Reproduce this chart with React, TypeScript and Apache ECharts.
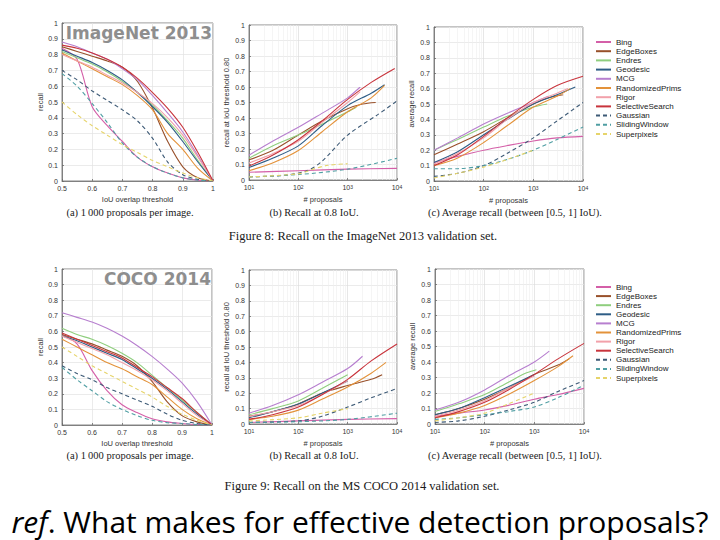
import React, { useEffect, useRef } from "react";
import * as echarts from "echarts";

// ---------- data ----------
const methods = [
  "Bing", "EdgeBoxes", "Endres", "Geodesic", "MCG", "RandomizedPrims",
  "Rigor", "SelectiveSearch", "Gaussian", "SlidingWindow", "Superpixels",
];
const methodColors = [
  "#d45fa8", "#98502a", "#8fce7e", "#2e5d86", "#b77fcf", "#e3923a",
  "#f2a1aa", "#c8343c", "#3d5a76", "#4f9ea3", "#e6d46a",
];
const dashedMethods = ["Gaussian", "SlidingWindow", "Superpixels"];

const iouThresholds = [0.5, 0.55, 0.6, 0.65, 0.7, 0.75, 0.8, 0.85, 0.9, 0.95, 1.0];

// (a) ImageNet 2013: recall vs IoU overlap threshold (1000 proposals)
const imagenetRecallIoU: Record<string, number[]> = {
  Bing: [0.84, 0.77, 0.47, 0.35, 0.25, 0.15, 0.09, 0.05, 0.02, 0.005, 0],
  EdgeBoxes: [0.85, 0.82, 0.79, 0.76, 0.72, 0.63, 0.46, 0.25, 0.09, 0.02, 0],
  Endres: [0.82, 0.78, 0.74, 0.69, 0.63, 0.56, 0.48, 0.38, 0.27, 0.13, 0],
  Geodesic: [0.83, 0.79, 0.75, 0.7, 0.64, 0.56, 0.47, 0.37, 0.25, 0.12, 0],
  MCG: [0.88, 0.85, 0.81, 0.77, 0.71, 0.64, 0.54, 0.43, 0.31, 0.16, 0],
  RandomizedPrims: [0.81, 0.76, 0.71, 0.66, 0.61, 0.54, 0.45, 0.3, 0.2, 0.08, 0],
  Rigor: [0.8, 0.76, 0.72, 0.67, 0.62, 0.56, 0.49, 0.4, 0.29, 0.15, 0],
  SelectiveSearch: [0.86, 0.84, 0.81, 0.77, 0.72, 0.65, 0.56, 0.46, 0.34, 0.18, 0],
  Gaussian: [0.7, 0.64, 0.57, 0.51, 0.45, 0.38, 0.27, 0.12, 0.04, 0.01, 0],
  SlidingWindow: [0.68, 0.6, 0.49, 0.37, 0.24, 0.15, 0.09, 0.05, 0.02, 0.005, 0],
  Superpixels: [0.5, 0.42, 0.35, 0.29, 0.23, 0.18, 0.13, 0.09, 0.05, 0.02, 0],
};

// (b) ImageNet 2013: recall at IoU 0.8 vs # proposals
const imagenetRecall08: Record<string, number[][]> = {
  Bing: [[10, 0.05], [100, 0.06], [1000, 0.07], [10000, 0.075]],
  EdgeBoxes: [[10, 0.13], [30, 0.19], [100, 0.29], [300, 0.38], [1000, 0.46], [2000, 0.49], [3700, 0.5]],
  Endres: [[10, 0.14], [30, 0.22], [100, 0.29], [300, 0.36], [1000, 0.44], [1500, 0.47]],
  Geodesic: [[10, 0.08], [30, 0.14], [100, 0.22], [300, 0.35], [1000, 0.48], [3000, 0.56], [5600, 0.615]],
  MCG: [[10, 0.16], [30, 0.25], [100, 0.34], [300, 0.43], [1000, 0.53], [1800, 0.6]],
  RandomizedPrims: [[10, 0.06], [30, 0.11], [100, 0.19], [300, 0.31], [1000, 0.44], [3000, 0.53], [5600, 0.61]],
  Rigor: [[10, 0.11], [30, 0.17], [100, 0.25], [300, 0.37], [1000, 0.5], [1800, 0.57]],
  SelectiveSearch: [[10, 0.09], [30, 0.16], [100, 0.26], [300, 0.38], [1000, 0.52], [3000, 0.63], [9000, 0.72]],
  Gaussian: [[10, 0.02], [50, 0.03], [150, 0.06], [300, 0.12], [1000, 0.29], [4000, 0.42], [10000, 0.51]],
  SlidingWindow: [[10, 0.02], [100, 0.035], [1000, 0.07], [10000, 0.14]],
  Superpixels: [[10, 0.02], [100, 0.04], [200, 0.07], [400, 0.095], [1000, 0.105]],
};

// (c) ImageNet 2013: average recall vs # proposals
const imagenetAvgRecall: Record<string, number[][]> = {
  Bing: [[10, 0.12], [30, 0.16], [100, 0.2], [300, 0.23], [1000, 0.26], [3000, 0.28], [10000, 0.29]],
  EdgeBoxes: [[10, 0.17], [30, 0.24], [100, 0.32], [300, 0.41], [1000, 0.5], [2000, 0.54], [4000, 0.56]],
  Endres: [[10, 0.2], [30, 0.27], [100, 0.35], [300, 0.42], [1000, 0.48], [1900, 0.5]],
  Geodesic: [[10, 0.12], [30, 0.19], [100, 0.3], [300, 0.4], [1000, 0.5], [3000, 0.56], [7000, 0.61]],
  MCG: [[10, 0.2], [30, 0.28], [100, 0.37], [300, 0.44], [1000, 0.51], [2000, 0.55]],
  RandomizedPrims: [[10, 0.1], [30, 0.15], [100, 0.25], [300, 0.36], [1000, 0.48], [3000, 0.55], [5500, 0.6]],
  Rigor: [[10, 0.11], [30, 0.18], [100, 0.28], [300, 0.4], [1000, 0.51], [3000, 0.57], [5000, 0.6]],
  SelectiveSearch: [[10, 0.1], [30, 0.17], [100, 0.29], [300, 0.41], [1000, 0.53], [3000, 0.62], [10000, 0.68]],
  Gaussian: [[10, 0.03], [30, 0.05], [100, 0.1], [300, 0.18], [1000, 0.28], [3000, 0.39], [10000, 0.51]],
  SlidingWindow: [[10, 0.08], [30, 0.08], [100, 0.1], [300, 0.14], [1000, 0.2], [3000, 0.27], [10000, 0.35]],
  Superpixels: [[10, 0.02], [30, 0.05], [100, 0.09], [300, 0.14], [1000, 0.2]],
};

// (a) COCO 2014: recall vs IoU overlap threshold
const cocoRecallIoU: Record<string, number[]> = {
  Bing: [0.58, 0.52, 0.35, 0.22, 0.13, 0.08, 0.04, 0.02, 0.01, 0.003, 0],
  EdgeBoxes: [0.58, 0.55, 0.52, 0.48, 0.44, 0.38, 0.28, 0.15, 0.06, 0.02, 0],
  Endres: [0.62, 0.58, 0.55, 0.51, 0.46, 0.4, 0.32, 0.24, 0.16, 0.08, 0],
  Geodesic: [0.57, 0.54, 0.5, 0.46, 0.42, 0.36, 0.3, 0.23, 0.15, 0.07, 0],
  MCG: [0.72, 0.69, 0.66, 0.62, 0.57, 0.51, 0.44, 0.36, 0.27, 0.15, 0],
  RandomizedPrims: [0.55, 0.5, 0.45, 0.4, 0.36, 0.31, 0.26, 0.18, 0.1, 0.04, 0],
  Rigor: [0.57, 0.53, 0.49, 0.45, 0.4, 0.35, 0.29, 0.22, 0.14, 0.06, 0],
  SelectiveSearch: [0.59, 0.55, 0.51, 0.47, 0.43, 0.37, 0.31, 0.24, 0.17, 0.08, 0],
  Gaussian: [0.38, 0.33, 0.29, 0.24, 0.2, 0.16, 0.12, 0.07, 0.03, 0.01, 0],
  SlidingWindow: [0.37, 0.29, 0.22, 0.15, 0.1, 0.06, 0.03, 0.015, 0.01, 0.003, 0],
  Superpixels: [0.5, 0.44, 0.38, 0.33, 0.28, 0.23, 0.18, 0.12, 0.07, 0.03, 0],
};

// (b) COCO 2014: recall at IoU 0.8 vs # proposals
const cocoRecall08: Record<string, number[][]> = {
  Bing: [[10, 0.01], [100, 0.02], [1000, 0.03], [10000, 0.035]],
  EdgeBoxes: [[10, 0.05], [30, 0.08], [100, 0.13], [300, 0.2], [1000, 0.25], [3000, 0.29], [5000, 0.32]],
  Endres: [[10, 0.06], [30, 0.1], [100, 0.15], [300, 0.23], [1000, 0.32]],
  Geodesic: [[10, 0.04], [30, 0.08], [100, 0.13], [300, 0.2], [1000, 0.28]],
  MCG: [[10, 0.07], [30, 0.12], [100, 0.19], [300, 0.27], [1000, 0.36], [2000, 0.44]],
  RandomizedPrims: [[10, 0.03], [30, 0.05], [100, 0.09], [300, 0.16], [1000, 0.24], [3000, 0.33], [6000, 0.4]],
  Rigor: [[10, 0.05], [30, 0.08], [100, 0.12], [300, 0.19], [1000, 0.28]],
  SelectiveSearch: [[10, 0.03], [30, 0.06], [100, 0.11], [300, 0.19], [1000, 0.29], [3000, 0.41], [10000, 0.52]],
  Gaussian: [[10, 0.01], [100, 0.02], [300, 0.05], [1000, 0.11], [3000, 0.17], [10000, 0.23]],
  SlidingWindow: [[10, 0.01], [100, 0.015], [1000, 0.03], [10000, 0.07]],
  Superpixels: [[10, 0.02], [100, 0.04], [300, 0.07], [1000, 0.1]],
};

// (c) COCO 2014: average recall vs # proposals
const cocoAvgRecall: Record<string, number[][]> = {
  Bing: [[10, 0.05], [30, 0.07], [100, 0.09], [300, 0.12], [1000, 0.16], [3000, 0.19], [10000, 0.23]],
  EdgeBoxes: [[10, 0.06], [30, 0.1], [100, 0.16], [300, 0.23], [1000, 0.32], [3000, 0.38], [5000, 0.42]],
  Endres: [[10, 0.08], [30, 0.13], [100, 0.19], [300, 0.27], [700, 0.33], [1100, 0.35]],
  Geodesic: [[10, 0.06], [30, 0.1], [100, 0.17], [300, 0.24], [1000, 0.32]],
  MCG: [[10, 0.09], [30, 0.14], [100, 0.22], [300, 0.31], [1000, 0.4], [2000, 0.47]],
  RandomizedPrims: [[10, 0.04], [30, 0.07], [100, 0.12], [300, 0.19], [1000, 0.28], [3000, 0.37], [6000, 0.44]],
  Rigor: [[10, 0.05], [30, 0.09], [100, 0.15], [300, 0.23], [1000, 0.31]],
  SelectiveSearch: [[10, 0.04], [30, 0.08], [100, 0.14], [300, 0.22], [1000, 0.32], [3000, 0.42], [10000, 0.52]],
  Gaussian: [[10, 0.01], [30, 0.02], [100, 0.05], [300, 0.09], [1000, 0.14], [3000, 0.21], [10000, 0.28]],
  SlidingWindow: [[10, 0.03], [30, 0.04], [100, 0.06], [300, 0.08], [1000, 0.11], [3000, 0.17], [10000, 0.25]],
  Superpixels: [[10, 0.02], [30, 0.04], [100, 0.07], [300, 0.13], [1000, 0.2]],
};

const subCaptions = [
  "(a) 1\u2009000 proposals per image.",
  "(b) Recall at 0.8 IoU.",
  "(c) Average recall (between [0.5, 1] IoU).",
];
const figureCaptions = [
  "Figure 8: Recall on the ImageNet 2013 validation set.",
  "Figure 9: Recall on the MS COCO 2014 validation set.",
];
const datasetTitles = ["ImageNet 2013", "COCO 2014"];

// ---------- chart ----------
const SANS = '"Liberation Sans", Arial, Helvetica, sans-serif';
const SERIF = '"Liberation Serif", "Times New Roman", serif';

const gridBoxes = [
  { left: 62, top: 23, width: 151, height: 158 },
  { left: 249, top: 25, width: 148, height: 155 },
  { left: 434, top: 27, width: 149, height: 154 },
  { left: 62, top: 269, width: 150, height: 156 },
  { left: 249, top: 270, width: 148, height: 154 },
  { left: 435, top: 269, width: 149, height: 155 },
];

function buildOption() {
  const plots = [
    { kind: "iou", iou: imagenetRecallIoU, yName: "recall" },
    { kind: "log", log: imagenetRecall08, yName: "recall at IoU threshold 0.80" },
    { kind: "log", log: imagenetAvgRecall, yName: "average recall" },
    { kind: "iou", iou: cocoRecallIoU, yName: "recall" },
    { kind: "log", log: cocoRecall08, yName: "recall at IoU threshold 0.80" },
    { kind: "log", log: cocoAvgRecall, yName: "average recall" },
  ] as any[];

  const axisLineStyle = { color: "#6a6a6a", width: 0.8 };
  const labelStyle = { fontSize: 7, color: "#333", fontFamily: SANS };
  const nameStyle = { fontSize: 7.5, color: "#333", fontFamily: SANS };

  const minorLogTicks: number[] = [];
  [10, 100, 1000].forEach((d) => {
    for (let m = 2; m <= 9; m++) minorLogTicks.push(d * m);
  });

  const grid = gridBoxes.map((g) => ({
    ...g,
    show: true,
    borderColor: "#6a6a6a",
    borderWidth: 0.8,
    backgroundColor: "#fff",
    containLabel: false,
  }));

  const xAxis: any[] = [];
  const yAxis: any[] = [];
  const series: any[] = [];

  plots.forEach((p, gi) => {
    if (p.kind === "iou") {
      xAxis.push({
        type: "value",
        gridIndex: gi,
        min: 0.5,
        max: 1,
        interval: 0.1,
        name: "IoU overlap threshold",
        nameLocation: "middle",
        nameGap: 14,
        nameTextStyle: nameStyle,
        axisLine: { show: true, lineStyle: axisLineStyle },
        axisTick: { show: true, inside: true, length: 2, lineStyle: axisLineStyle },
        axisLabel: {
          ...labelStyle,
          margin: 4,
          formatter: (v: number) => String(Number(v.toFixed(1))),
        },
        splitLine: { show: true, lineStyle: { color: "#e3e3e3", width: 0.7 } },
      });
    } else {
      xAxis.push({
        type: "log",
        logBase: 10,
        gridIndex: gi,
        min: 10,
        max: 10000,
        name: "# proposals",
        nameLocation: "middle",
        nameGap: 15,
        nameTextStyle: nameStyle,
        axisLine: { show: true, lineStyle: axisLineStyle },
        axisTick: { show: true, inside: true, length: 2, lineStyle: axisLineStyle },
        axisLabel: {
          ...labelStyle,
          margin: 4,
          formatter: (v: number) => `{b|10}{s|${Math.round(Math.log10(v))}}`,
          rich: {
            b: { fontSize: 7, color: "#333", fontFamily: SANS },
            s: { fontSize: 5, color: "#333", fontFamily: SANS, verticalAlign: "top" },
          },
        },
        splitLine: { show: true, lineStyle: { color: "#dcdcdc", width: 0.7 } },
      });
    }
    yAxis.push({
      type: "value",
      gridIndex: gi,
      min: 0,
      max: 1,
      interval: 0.1,
      name: p.yName,
      nameLocation: "middle",
      nameGap: p.kind === "iou" ? 18 : 19,
      nameTextStyle: nameStyle,
      axisLine: { show: true, lineStyle: axisLineStyle },
      axisTick: { show: true, inside: true, length: 2, lineStyle: axisLineStyle },
      axisLabel: {
        ...labelStyle,
        margin: 4,
        formatter: (v: number) => String(Number(v.toFixed(1))),
      },
      splitLine: { show: true, lineStyle: { color: "#e3e3e3", width: 0.7 } },
    });

    methods.forEach((m, mi) => {
      const dashed = dashedMethods.includes(m);
      const data =
        p.kind === "iou"
          ? iouThresholds.map((x, i) => [x, p.iou[m][i]])
          : p.log[m];
      const s: any = {
        type: "line",
        name: m,
        xAxisIndex: gi,
        yAxisIndex: gi,
        data,
        symbol: "none",
        showSymbol: false,
        smooth: 0.3,
        silent: true,
        color: methodColors[mi],
        lineStyle: {
          color: methodColors[mi],
          width: 1.1,
          type: dashed ? [4, 3] : "solid",
        },
        emphasis: { disabled: true },
        z: 3,
      };
      if (p.kind === "log" && mi === 0) {
        s.markLine = {
          silent: true,
          z: 1,
          symbol: ["none", "none"],
          label: { show: false },
          emphasis: { disabled: true },
          lineStyle: { color: "#eeeeee", width: 0.6, type: "solid" },
          data: minorLogTicks.map((v) => ({ xAxis: v })),
        };
      }
      series.push(s);
    });
  });

  const legendCommon = {
    orient: "vertical",
    left: 595,
    padding: 0,
    itemWidth: 15,
    itemHeight: 8,
    selectedMode: false,
    data: methods,
    itemStyle: { color: "transparent", borderColor: "transparent", borderWidth: 0, opacity: 0 },
    textStyle: { fontSize: 8, lineHeight: 8, color: "#222", fontFamily: SANS },
  };

  const captionText = (text: string, x: number, y: number, size: number) => ({
    type: "text",
    x,
    y,
    style: {
      text,
      align: "center",
      verticalAlign: "middle",
      fontSize: size,
      fontFamily: SERIF,
      fill: "#1a1a1a",
    },
    z: 10,
  });

  const graphic: any[] = [
    {
      type: "text",
      x: 212,
      y: 33,
      style: {
        text: datasetTitles[0],
        align: "right",
        verticalAlign: "middle",
        fontSize: 17,
        fontWeight: "bold",
        fontFamily: '"DejaVu Sans", sans-serif',
        fill: "#8e8e8e",
      },
      z: 10,
    },
    {
      type: "text",
      x: 211,
      y: 279,
      style: {
        text: datasetTitles[1],
        align: "right",
        verticalAlign: "middle",
        fontSize: 17,
        fontWeight: "bold",
        fontFamily: '"DejaVu Sans", sans-serif',
        fill: "#8e8e8e",
      },
      z: 10,
    },
    captionText(subCaptions[0], 130, 212, 10.5),
    captionText(subCaptions[1], 314, 212, 10.5),
    captionText(subCaptions[2], 515, 212, 10.5),
    captionText(subCaptions[0], 130, 455, 10.5),
    captionText(subCaptions[1], 314, 455, 10.5),
    captionText(subCaptions[2], 515, 455, 10.5),
    captionText(figureCaptions[0], 363, 236, 12.5),
    captionText(figureCaptions[1], 362, 486, 12.5),
    {
      type: "text",
      x: 360,
      y: 521,
      style: {
        text: "{i|ref}. What makes for effective detection proposals?",
        align: "center",
        verticalAlign: "middle",
        fontSize: 30,
        fontFamily: '"Open Sans", "Noto Sans", sans-serif',
        fill: "#000",
        rich: {
          i: {
            fontSize: 30,
            fontStyle: "italic",
            fontFamily: '"Open Sans", "Noto Sans", sans-serif',
            fill: "#000",
          },
        },
      },
      z: 10,
    },
  ];

  return {
    animation: false,
    backgroundColor: "#ffffff",
    grid,
    xAxis,
    yAxis,
    series,
    legend: [
      { ...legendCommon, top: 38, itemGap: 1.2 },
      { ...legendCommon, top: 283, itemGap: 1.1 },
    ],
    graphic,
  };
}

export default function App() {
  const ref = useRef<HTMLDivElement>(null);
  useEffect(() => {
    if (!ref.current) return;
    const chart = echarts.init(ref.current, undefined, { renderer: "svg" });
    chart.setOption(buildOption() as any);
    return () => chart.dispose();
  }, []);
  return (
    <div
      ref={ref}
      style={{ position: "fixed", left: 0, top: 0, width: 720, height: 540, background: "#fff" }}
    />
  );
}
